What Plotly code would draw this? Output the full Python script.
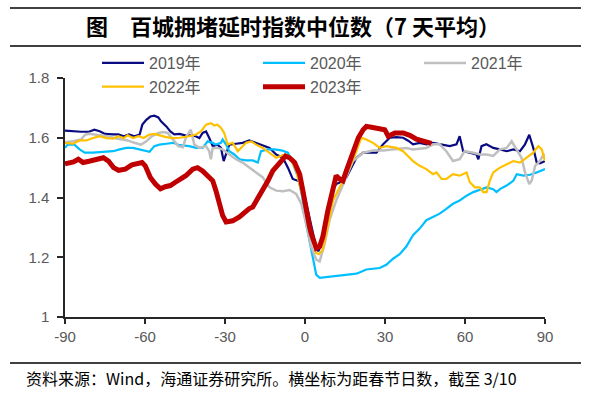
import plotly.graph_objects as go

# ---------------- data ----------------
series_names = ["2019年", "2020年", "2021年", "2022年", "2023年"]
x_ticks = [-90, -60, -30, 0, 30, 60, 90]
y_ticks = [1.0, 1.2, 1.4, 1.6, 1.8]

d2019 = [
    -90, -87, -84, -81, -79, -77, -75, -72, -70, -68,
    -66, -64, -62, -61, -59.5, -58, -56.5, -55, -54, -52,
    -50.5, -49, -47, -45, -43, -41, -39.6, -38.4, -37.1, -35.9,
    -34.6, -32.8, -31.5, -30.5, -29.6, -28.4, -25.9, -23.4, -20.9, -18.3,
    -15.8, -13.3, -10.8, -8.3, -6.4, -4.6, -2.7, -1.5, 0, 2,
    4, 5, 6, 8, 10, 11.7, 13, 15.5, 17.5, 19.3,
    21.8, 24.3, 26.8, 29.3, 31.8, 34.3, 36.8, 38.7, 40.5, 43,
    45.5, 48, 50.5, 54.3, 56.8, 58, 59.3, 61.8, 64.3, 65,
    66.2, 68, 70.6, 73.1, 75.6, 78.1, 80.6, 82.5, 84.1, 85.6,
    86.9, 88.1, 90]
v2019 = [
    1.624, 1.621, 1.620, 1.620, 1.627, 1.622, 1.613, 1.611, 1.611, 1.605,
    1.611, 1.605, 1.611, 1.644, 1.660, 1.671, 1.674, 1.668, 1.655, 1.638,
    1.621, 1.611, 1.613, 1.608, 1.608, 1.605, 1.599, 1.616, 1.621, 1.599,
    1.572, 1.577, 1.566, 1.522, 1.544, 1.577, 1.580, 1.583, 1.591, 1.583,
    1.575, 1.566, 1.544, 1.533, 1.500, 1.462, 1.456, 1.467, 1.400, 1.320,
    1.240, 1.220, 1.240, 1.330, 1.420, 1.445, 1.450, 1.467, 1.500, 1.533,
    1.550, 1.550, 1.550, 1.578, 1.600, 1.602, 1.600, 1.590, 1.578, 1.583,
    1.578, 1.583, 1.578, 1.572, 1.578, 1.605, 1.555, 1.550, 1.544, 1.528,
    1.572, 1.578, 1.566, 1.561, 1.555, 1.561, 1.555, 1.578, 1.610, 1.566,
    1.517, 1.514, 1.522]

d2020 = [
    -90, -89, -86.5, -84.5, -82.6, -79.5, -75.8, -72, -69.5, -67,
    -64.5, -62, -59.5, -58.3, -56.5, -54.6, -52, -49.5, -47, -43.4,
    -40.9, -38.4, -36.5, -34.6, -33.4, -31.5, -30.9, -29.6, -28.4, -26.5,
    -24.6, -22.1, -19.6, -17.7, -16.5, -13.9, -11.4, -8.9, -6.4, -4.6,
    -2.7, -1, 0.4, 2.3, 4.2, 5.5, 7.4, 10.5, 15.5, 19.3,
    23, 28, 30.5, 33, 35.5, 38, 40.5, 43, 45.5, 48,
    50.5, 53, 55.5, 58, 60.6, 63.1, 65.6, 68.1, 70.6, 71.8,
    73.1, 75.6, 78.1, 79.4, 81.9, 84.4, 86.9, 90]
v2020 = [
    1.566, 1.577, 1.577, 1.561, 1.550, 1.550, 1.553, 1.555, 1.561, 1.566,
    1.566, 1.561, 1.555, 1.553, 1.572, 1.577, 1.580, 1.583, 1.575, 1.572,
    1.566, 1.566, 1.588, 1.583, 1.577, 1.583, 1.594, 1.577, 1.555, 1.544,
    1.528, 1.524, 1.524, 1.517, 1.555, 1.561, 1.561, 1.558, 1.550, 1.515,
    1.470, 1.400, 1.313, 1.225, 1.142, 1.131, 1.133, 1.137, 1.142, 1.145,
    1.159, 1.164, 1.175, 1.195, 1.210, 1.236, 1.274, 1.296, 1.324, 1.335,
    1.346, 1.362, 1.379, 1.390, 1.406, 1.418, 1.425, 1.434, 1.428, 1.418,
    1.428, 1.440, 1.456, 1.478, 1.473, 1.476, 1.484, 1.495]

d2021 = [
    -90, -87, -84, -82.5, -81, -78, -74, -71.5, -69, -66.5,
    -64, -61.5, -59.5, -57.5, -55, -53, -51.5, -50, -47.5, -45.8,
    -44.5, -42.8, -41.5, -39.6, -37.1, -35.9, -35.3, -34.6, -32.8, -30.9,
    -28.4, -25.9, -23.4, -20.9, -18.3, -15.8, -13.3, -10.8, -8.3, -5.8,
    -3.3, -1.4, 0.4, 2.3, 4.2, 5.5, 7.4, 9.2, 11.7, 14.3,
    18, 21.8, 25.5, 29.3, 34.3, 38, 40.5, 45.5, 48, 50.5,
    53, 55.5, 58, 59.9, 63.1, 65.6, 68.1, 70.6, 73.1, 75.6,
    77.5, 79.4, 81.2, 82.5, 84.1, 85, 86.3, 88.1, 89.4, 90]
v2021 = [
    1.585, 1.588, 1.594, 1.610, 1.613, 1.610, 1.605, 1.599, 1.594, 1.591,
    1.583, 1.577, 1.588, 1.605, 1.616, 1.619, 1.616, 1.599, 1.572, 1.568,
    1.605, 1.627, 1.577, 1.566, 1.572, 1.555, 1.528, 1.566, 1.566, 1.561,
    1.544, 1.528, 1.517, 1.500, 1.484, 1.467, 1.434, 1.423, 1.421, 1.425,
    1.412, 1.379, 1.313, 1.236, 1.192, 1.186, 1.247, 1.324, 1.390, 1.445,
    1.522, 1.550, 1.557, 1.557, 1.561, 1.566, 1.561, 1.566, 1.578, 1.578,
    1.555, 1.522, 1.528, 1.555, 1.550, 1.544, 1.544, 1.539, 1.561, 1.566,
    1.588, 1.561, 1.533, 1.484, 1.445, 1.456, 1.506, 1.522, 1.544, 1.540]

d2022 = [
    -90, -87, -84.5, -82, -79.5, -77, -74.5, -72, -70, -68,
    -66.5, -64.5, -62.5, -60.5, -58.5, -56.5, -54.5, -52, -49.5, -47,
    -43.4, -40.9, -39, -37.1, -35.3, -34, -32.8, -31.5, -30.3, -29,
    -27.1, -25.2, -24, -22.1, -20.2, -18.3, -15.8, -13.3, -10.8, -8.3,
    -5.8, -3.3, -0.8, 1.7, 4.2, 5.2, 6.7, 10.5, 13, 16.7,
    19.3, 21.1, 23, 25.5, 28, 30.5, 34.3, 36.8, 38, 40.5,
    43, 45.5, 48, 49.3, 51.2, 53, 55.5, 58, 60.6, 61.8,
    63.7, 65.6, 66.8, 68.1, 69.3, 70.6, 73.1, 75.6, 78.1, 80.6,
    83.1, 85.6, 87.5, 88.8, 90]
v2022 = [
    1.583, 1.580, 1.591, 1.591, 1.599, 1.605, 1.599, 1.597, 1.605, 1.599,
    1.608, 1.599, 1.605, 1.599, 1.610, 1.613, 1.608, 1.602, 1.599, 1.600,
    1.605, 1.611, 1.621, 1.644, 1.649, 1.641, 1.644, 1.633, 1.616, 1.577,
    1.583, 1.555, 1.566, 1.583, 1.588, 1.577, 1.566, 1.550, 1.533, 1.542,
    1.539, 1.489, 1.401, 1.302, 1.214, 1.210, 1.225, 1.390, 1.434, 1.500,
    1.555, 1.600, 1.594, 1.583, 1.566, 1.572, 1.566, 1.555, 1.544, 1.522,
    1.506, 1.495, 1.478, 1.484, 1.462, 1.462, 1.478, 1.473, 1.484, 1.451,
    1.434, 1.434, 1.418, 1.418, 1.456, 1.484, 1.500, 1.511, 1.522, 1.517,
    1.533, 1.550, 1.572, 1.561, 1.522]

d2023 = [
    -90, -88, -86.8, -85, -83.2, -80.6, -78.1, -75.6, -73.7, -71.8,
    -69.9, -67.4, -64.9, -63, -61.1, -59.9, -58, -56.1, -54.2, -52.4,
    -50.5, -48.6, -46.7, -44.7, -42.1, -40.3, -38.4, -35.9, -34.6, -33.4,
    -32.1, -30.9, -29.6, -27.1, -24.6, -22.7, -20.9, -19.6, -17.7, -15.8,
    -13.9, -12.1, -10.2, -8.9, -7.3, -5.8, -3.9, -2, -0.8, 0.4,
    1.7, 2.3, 4.2, 5.5, 6.7, 8.6, 10.5, 11.7, 13, 14.2,
    15.5, 17.4, 20, 21.8, 23, 24.9, 27.4, 29.9, 31.2, 33.7,
    36.8, 39.3, 41.8, 44.3, 47.4]
v2023 = [
    1.513, 1.517, 1.519, 1.528, 1.517, 1.522, 1.528, 1.533, 1.522, 1.500,
    1.491, 1.495, 1.509, 1.514, 1.517, 1.506, 1.467, 1.445, 1.429, 1.436,
    1.440, 1.451, 1.462, 1.473, 1.495, 1.500, 1.489, 1.467, 1.456, 1.423,
    1.379, 1.340, 1.318, 1.322, 1.335, 1.352, 1.363, 1.368, 1.396, 1.423,
    1.456, 1.489, 1.506, 1.522, 1.539, 1.533, 1.517, 1.478, 1.423, 1.357,
    1.302, 1.280, 1.230, 1.236, 1.269, 1.357, 1.434, 1.473, 1.462, 1.456,
    1.489, 1.533, 1.600, 1.627, 1.638, 1.635, 1.633, 1.627, 1.605, 1.616,
    1.616, 1.608, 1.595, 1.590, 1.581]

title_text = "图\u3000百城拥堵延时指数中位数（7 天平均）"
footer_text = "资料来源：Wind，海通证券研究所。横坐标为距春节日数，截至 3/10"

# ---------------- styling ----------------
colors = ["#0A0A82", "#00BFFF", "#BFBFBF", "#FFC000", "#C00000"]
widths = [2.2, 2.2, 2.5, 2.2, 5]
days = [d2019, d2020, d2021, d2022, d2023]
vals = [v2019, v2020, v2021, v2022, v2023]

W, H = 591, 397
L, R, T, B = 65, 46, 78, 80
pw, ph = W - L - R, H - T - B

def px(xpix):
    return (xpix - L) / pw

def py(ypix):
    return 1 - (ypix - T) / ph

fig = go.Figure()
for name, dx, vy, c, w in zip(series_names, days, vals, colors, widths):
    fig.add_trace(go.Scatter(x=dx, y=vy, mode="lines", name=name,
                             line=dict(color=c, width=w)))

tickfont = dict(family="Liberation Sans, Arial, sans-serif", size=15, color="#595959")
fig.update_layout(
    width=W, height=H,
    margin=dict(l=L, r=R, t=T, b=B, autoexpand=False),
    paper_bgcolor="white", plot_bgcolor="white",
    showlegend=True,
    legend=dict(orientation="h", xref="container", yref="container",
                x=97 / W, y=1 - 46 / H, xanchor="left", yanchor="top",
                itemwidth=42, entrywidth=104, entrywidthmode="pixels",
                font=dict(family="Liberation Sans, Arial, Noto Sans CJK SC", size=16, color="#595959"),
                bgcolor="rgba(0,0,0,0)", traceorder="normal"),
    title=dict(text="<b>" + title_text + "</b>", xref="container", yref="container",
               x=293 / W, y=1 - 27 / H, xanchor="center", yanchor="middle",
               font=dict(family="Noto Sans CJK SC", size=22, color="#000000")),
)
fig.update_xaxes(range=[-90, 90], tickvals=x_ticks, ticktext=[str(t) for t in x_ticks],
                 showgrid=False, zeroline=False, showline=True, linecolor="#262626", linewidth=1.5,
                 ticks="outside", ticklen=5, tickwidth=1.5, tickcolor="#262626",
                 tickfont=tickfont, ticklabelstandoff=0)
fig.update_yaxes(range=[1.0, 1.8], tickvals=y_ticks, ticktext=["1", "1.2", "1.4", "1.6", "1.8"],
                 showgrid=False, zeroline=False, showline=True, linecolor="#262626", linewidth=1.5,
                 ticks="outside", ticklen=6, tickwidth=1.5, tickcolor="#262626",
                 tickfont=tickfont, ticklabelstandoff=5)

# horizontal rules
for yy in (8, 46, 363):
    fig.add_shape(type="line", xref="paper", yref="paper",
                  x0=px(10), x1=px(581), y0=py(yy), y1=py(yy),
                  line=dict(color="#000000", width=1.5))

fig.add_annotation(text=footer_text, xref="paper", yref="paper",
                   x=px(24), y=py(378), xanchor="left", yanchor="middle", showarrow=False,
                   font=dict(family="Noto Sans CJK SC", size=16, color="#000000"))

# remove the default 8px page margin so the figure sits at the window origin
fig.write_html("out.html", config={"displayModeBar": False},
               post_script="document.body.style.margin='0';document.body.style.overflow='hidden';")
